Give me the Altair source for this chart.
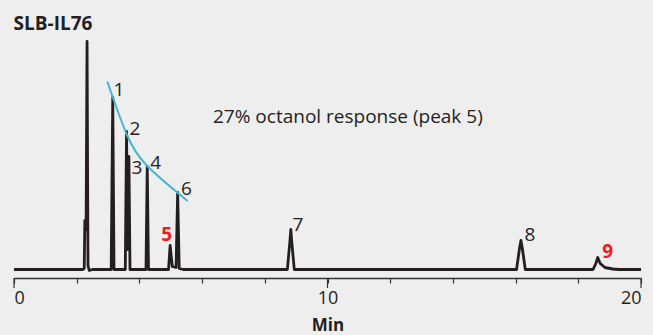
import altair as alt
import pandas as pd

# Chromatogram trace (retention time in min, detector signal in arbitrary units)
trace_time = [0.0, 2.20, 2.24, 2.26, 2.30, 2.33, 2.36, 2.40, 2.50,
              3.10, 3.15, 3.19,
              3.55, 3.59, 3.62, 3.665, 3.70,
              4.21, 4.25, 4.29,
              4.93, 4.98, 5.05, 5.17, 5.22, 5.27, 5.40,
              8.72, 8.80, 8.83, 8.86, 8.94,
              16.03, 16.12, 16.17, 16.22, 16.31,
              18.47, 18.56, 18.62, 18.70, 18.85, 19.10, 19.30, 20.0]
trace_signal = [0, 0, 1, 49, 40, 228, 4, -1, 0,
                0, 172, 0,
                0, 138, 20, 113, 0,
                0, 103, 0,
                0, 24, 3, 2, 77, 1, 0,
                0, 28, 40, 28, 0,
                0, 20, 29, 20, 0,
                0, 6, 12, 6, 2, 0.5, 0, 0]

# Response trend curve drawn over peaks 1-6
trend_time = [2.976, 3.59, 4.25, 5.54]
trend_signal = [188, 135.5, 103.5, 68.5]

# Peak number labels
peak_label = ["1", "2", "3", "4", "5", "6", "7", "8", "9"]
peak_label_time = [3.35, 3.86, 3.92, 4.52, 4.87, 5.50, 9.06, 16.46, 18.94]
peak_label_signal = [179.5, 140.5, 101.5, 106.8, 34.5, 80.5, 44.5, 34.5, 17.8]
peak_highlight = [False, False, False, False, True, False, False, False, True]

# Axis ticks: every minute, longer marks on the labelled decades
minor_ticks = list(range(21))
major_ticks = [0, 10, 20]

FONT = "Open Sans"
INK = "#231f20"
RED = "#ed1c24"
PLOT_H = 242

trace = pd.DataFrame({"time": trace_time, "signal": trace_signal})
trend = pd.DataFrame({"time": trend_time, "signal": trend_signal})
labels = pd.DataFrame({"label": peak_label, "time": peak_label_time,
                       "signal": peak_label_signal, "hl": peak_highlight})
plain_labels = labels[~labels["hl"]]
red_labels = labels[labels["hl"]]
note = pd.DataFrame({"text": ["27% octanol response (peak 5)"], "time": [10.65], "signal": [152.5]})
majors = pd.DataFrame({"time": major_ticks})

x_scale = alt.Scale(domain=[0, 20], nice=False)
y_scale = alt.Scale(domain=[-8.5, 233.5], nice=False, zero=False)

x_axis = alt.Axis(
    values=minor_ticks,
    labelExpr="datum.value % 10 === 0 ? datum.label : ''",
    tickSize=5, tickColor="#333333", domainColor="#333333", tickWidth=1.2, domainWidth=1.3,
    labelFont=FONT, labelFontSize=18, labelColor=INK, labelPadding=6,
    labelOverlap=False, grid=False,
    title="Min", titleFont=FONT, titleFontSize=17, titleFontWeight="bold",
    titleColor=INK, titlePadding=10,
)

line = alt.Chart(trace).mark_line(color=INK, strokeWidth=2.8, strokeJoin="round").encode(
    x=alt.X("time:Q", scale=x_scale, axis=x_axis),
    y=alt.Y("signal:Q", scale=y_scale, axis=None),
    order="time:Q",
)

major_marks = alt.Chart(majors).mark_rule(color="#333333", strokeWidth=1.2).encode(
    x="time:Q", y=alt.value(PLOT_H), y2=alt.value(PLOT_H + 10),
)

curve = alt.Chart(trend).mark_line(color="#44b6d0", strokeWidth=2, interpolate="natural").encode(
    x="time:Q", y="signal:Q",
)

nums = alt.Chart(plain_labels).mark_text(font=FONT, fontSize=19, color=INK,
                                         baseline="middle", align="center").encode(
    x="time:Q", y="signal:Q", text="label:N",
)

red_nums = alt.Chart(red_labels).mark_text(font=FONT, fontSize=19, color=RED, fontWeight="bold",
                                           baseline="middle", align="center").encode(
    x="time:Q", y="signal:Q", text="label:N",
)

note_text = alt.Chart(note).mark_text(font=FONT, fontSize=19, color=INK, baseline="middle", align="center").encode(
    x="time:Q", y="signal:Q", text="text:N",
)

chart = alt.layer(line, major_marks, curve, nums, red_nums, note_text).properties(
    width=627, height=PLOT_H,
    title=alt.TitleParams("SLB-IL76", anchor="start", font=FONT, fontSize=19,
                          fontWeight="bold", color=INK, offset=2, dx=1),
    autosize=alt.AutoSizeParams(type="none"),
    padding={"left": 14, "right": 12, "top": 36, "bottom": 57},
    background="#eeeeee",
).configure_view(stroke=None)

chart.save("out.html", embed_options={"renderer": "svg", "actions": False})
